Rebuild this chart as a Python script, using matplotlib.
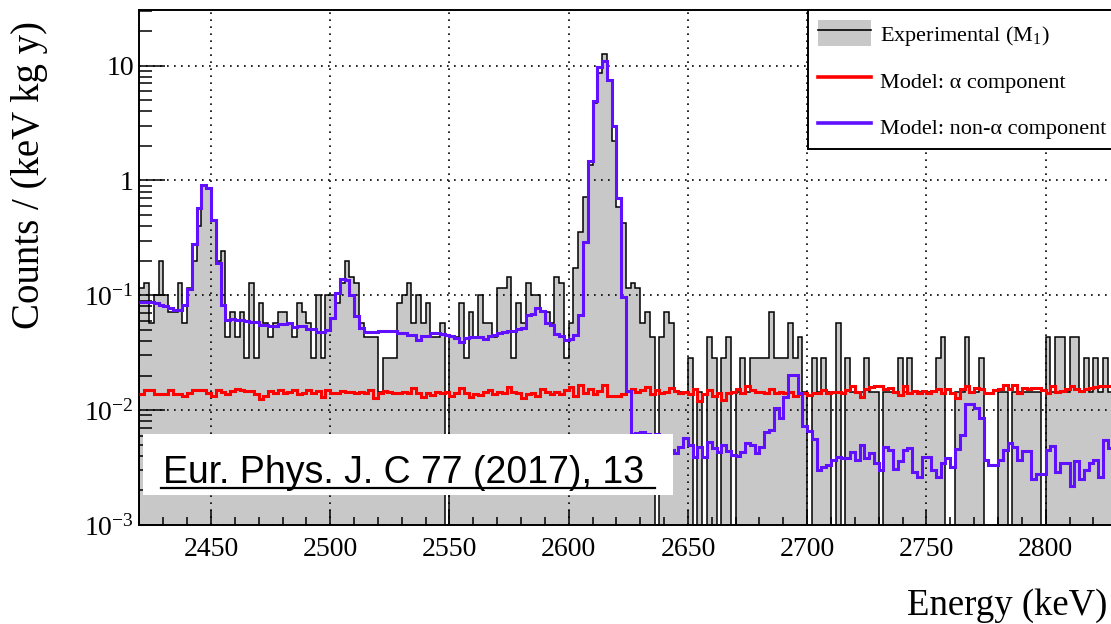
import numpy as np
import matplotlib
matplotlib.use("Agg")
import matplotlib.pyplot as plt
from matplotlib.patches import Patch, Rectangle
from matplotlib.lines import Line2D
from matplotlib.legend_handler import HandlerTuple
from matplotlib.ticker import FixedLocator, FixedFormatter, LogLocator, NullFormatter, MultipleLocator

plt.rcParams['font.family'] = ['Liberation Serif', 'DejaVu Serif']
plt.rcParams['mathtext.fontset'] = 'custom'
plt.rcParams['mathtext.rm'] = 'Liberation Serif'
plt.rcParams['mathtext.it'] = 'Liberation Serif:italic'
plt.rcParams['mathtext.bf'] = 'Liberation Serif:bold'

# ---------------- data ----------------
E_START = 2420.0      # keV, lower edge of first bin
BIN_WIDTH = 2.0       # keV
count_scale = 0.01433  # counts/(keV kg y) corresponding to one event per bin

exp_counts = [
    8, 9, 4, 7, 14, 7, 5, 5, 9, 4,
    8, 14, 28, 64, 60, 31, 14, 17, 3, 5,
    3, 5, 2, 9, 2, 6, 4, 3, 4, 5,
    5, 4, 3, 6, 5, 4, 2, 7, 2, 7,
    7, 6, 9, 14, 10, 9, 4, 3, 3, 3,
    1, 2, 2, 2, 6, 7, 9, 4, 7, 4,
    6, 3, 3, 4, 0, 3, 3, 6, 2, 5,
    3, 7, 4, 4, 3, 8, 8, 10, 2, 6,
    4, 9, 7, 7, 5, 5, 4, 10, 9, 2,
    4, 12, 25, 50, 95, 330, 600, 880, 520, 155,
    41, 30, 8, 9, 8, 4, 5, 3, 0, 3,
    5, 4, 1, 1, 1, 2, 0, 1, 0, 3,
    2, 0, 2, 3, 0, 1, 2, 1, 2, 2,
    2, 2, 5, 2, 2, 2, 4, 2, 3, 1,
    0, 2, 1, 2, 1, 0, 4, 0, 2, 1,
    1, 1, 2, 1, 1, 0, 1, 1, 1, 2,
    1, 2, 1, 1, 1, 1, 1, 2, 3, 0,
    0, 1, 1, 3, 1, 1, 2, 0, 0, 0,
    1, 1, 0, 1, 1, 1, 1, 1, 1, 0,
    3, 1, 3, 3, 1, 3, 3, 1, 2, 1,
    2, 1, 2, 1, 1,
]

non_alpha_model = [
    0.088, 0.088, 0.087, 0.085, 0.083, 0.080, 0.077, 0.075, 0.074, 0.083,
    0.113, 0.28, 0.58, 0.92, 0.86, 0.45, 0.19, 0.083, 0.061, 0.062,
    0.061, 0.061, 0.060, 0.058, 0.058, 0.055, 0.055, 0.054, 0.054, 0.056,
    0.056, 0.057, 0.053, 0.054, 0.054, 0.051, 0.051, 0.0475, 0.048, 0.050,
    0.063, 0.105, 0.139, 0.135, 0.100, 0.066, 0.052, 0.0475, 0.0475, 0.048,
    0.049, 0.049, 0.049, 0.049, 0.047, 0.047, 0.045, 0.045, 0.041, 0.0445,
    0.0445, 0.047, 0.047, 0.046, 0.045, 0.0445, 0.0425, 0.0395, 0.0425, 0.043,
    0.043, 0.043, 0.042, 0.044, 0.045, 0.047, 0.0475, 0.049, 0.049, 0.051,
    0.052, 0.068, 0.069, 0.078, 0.073, 0.057, 0.055, 0.046, 0.044, 0.041,
    0.0415, 0.045, 0.067, 0.29, 1.49, 4.95, 9.67, 11.0, 7.5, 3.0,
    0.705, 0.096, 0.0148, 0.0062, 0.0063, 0.0064, 0.0062, 0.0060, 0.0062, 0.0060,
    0.0055, 0.0045, 0.0042, 0.0048, 0.0057, 0.0050, 0.0039, 0.0048, 0.0039, 0.0053,
    0.0047, 0.0043, 0.0050, 0.0044, 0.0041, 0.0040, 0.0043, 0.0052, 0.0050, 0.0042,
    0.0048, 0.0065, 0.0067, 0.0105, 0.0085, 0.0131, 0.0203, 0.0203, 0.0141, 0.0073,
    0.0066, 0.0056, 0.0030, 0.0032, 0.0033, 0.0037, 0.0039, 0.0038, 0.0038, 0.0043,
    0.0037, 0.0050, 0.0038, 0.0042, 0.0035, 0.0030, 0.0048, 0.0045, 0.0031, 0.0036,
    0.0045, 0.0047, 0.0029, 0.0026, 0.0039, 0.0039, 0.0030, 0.0026, 0.0035, 0.0038,
    0.0032, 0.0046, 0.0061, 0.0114, 0.0114, 0.0104, 0.0085, 0.0037, 0.0033, 0.0033,
    0.0037, 0.0045, 0.0052, 0.0048, 0.0037, 0.0044, 0.0044, 0.0025, 0.0028, 0.0028,
    0.0045, 0.0049, 0.0029, 0.0035, 0.0035, 0.0022, 0.0036, 0.0025, 0.0030, 0.0035,
    0.0037, 0.0026, 0.0055, 0.0047, 0.0047,
]

alpha_model = [
    0.0137, 0.0151, 0.0151, 0.0137, 0.0137, 0.0137, 0.0151, 0.0137, 0.0137, 0.0133,
    0.0142, 0.0150, 0.0150, 0.0150, 0.0140, 0.0132, 0.0151, 0.0143, 0.0137, 0.0146,
    0.0153, 0.0150, 0.0146, 0.0146, 0.0137, 0.0126, 0.0133, 0.0148, 0.0140, 0.0150,
    0.0142, 0.0143, 0.0150, 0.0137, 0.0142, 0.0151, 0.0140, 0.0146, 0.0129, 0.0150,
    0.0141, 0.0141, 0.0148, 0.0145, 0.0145, 0.0141, 0.0145, 0.0141, 0.0150, 0.0127,
    0.0141, 0.0148, 0.0145, 0.0142, 0.0142, 0.0145, 0.0141, 0.0155, 0.0142, 0.0131,
    0.0141, 0.0136, 0.0145, 0.0141, 0.0145, 0.0133, 0.0141, 0.0155, 0.0141, 0.0131,
    0.0139, 0.0136, 0.0145, 0.0150, 0.0139, 0.0145, 0.0141, 0.0159, 0.0145, 0.0141,
    0.0127, 0.0137, 0.0141, 0.0134, 0.0153, 0.0143, 0.0139, 0.0143, 0.0137, 0.0149,
    0.0158, 0.0132, 0.0164, 0.0141, 0.0153, 0.0139, 0.0147, 0.0167, 0.0134, 0.0132,
    0.0132, 0.0139, 0.0147, 0.0153, 0.0143, 0.0150, 0.0158, 0.0139, 0.0149, 0.0141,
    0.0143, 0.0156, 0.0147, 0.0141, 0.0143, 0.0137, 0.0153, 0.0121, 0.0137, 0.0149,
    0.0134, 0.0141, 0.0122, 0.0141, 0.0145, 0.0152, 0.0141, 0.0161, 0.0150, 0.0145,
    0.0145, 0.0141, 0.0152, 0.0141, 0.0145, 0.0141, 0.0145, 0.0133, 0.0139, 0.0141,
    0.0136, 0.0141, 0.0142, 0.0150, 0.0142, 0.0145, 0.0145, 0.0141, 0.0150, 0.0163,
    0.0145, 0.0129, 0.0152, 0.0159, 0.0161, 0.0161, 0.0152, 0.0155, 0.0145, 0.0136,
    0.0161, 0.0142, 0.0148, 0.0141, 0.0148, 0.0142, 0.0148, 0.0152, 0.0141, 0.0152,
    0.0141, 0.0127, 0.0152, 0.0161, 0.0145, 0.0155, 0.0152, 0.0141, 0.0141, 0.0150,
    0.0152, 0.0166, 0.0152, 0.0166, 0.0141, 0.0155, 0.0152, 0.0155, 0.0155, 0.0150,
    0.0141, 0.0163, 0.0145, 0.0148, 0.0152, 0.0163, 0.0152, 0.0148, 0.0152, 0.0155,
    0.0159, 0.0161, 0.0161, 0.0161, 0.0155,
]

x_ticks = [2450, 2500, 2550, 2600, 2650, 2700, 2750, 2800]
x_tick_labels = ["2450", "2500", "2550", "2600", "2650", "2700", "2750", "2800"]
y_ticks = [1e-3, 1e-2, 1e-1, 1, 10]
y_tick_labels = [r"$10^{-3}$", r"$10^{-2}$", r"$10^{-1}$", "1", "10"]

legend_labels = [r"Experimental ($\mathrm{M}_{1}$)", "Model: \u03b1 component",
                 "Model: non-\u03b1 component"]
ref_text = "Eur. Phys. J. C 77 (2017), 13"

# ---------------- figure ----------------
W, H = 1111, 624
fig = plt.figure(figsize=(W / 100, H / 100), dpi=100)
ax_left, ax_right, ax_top, ax_bot = 139.45, 1117.2, 10, 525
ax = fig.add_axes([ax_left / W, (H - ax_bot) / H, (ax_right - ax_left) / W, (ax_bot - ax_top) / H])

n = len(exp_counts)
edges = E_START + BIN_WIDTH * np.arange(n + 1)
exp_vals = np.array(exp_counts, dtype=float) * count_scale
floor = 1e-6
exp_plot = np.where(exp_vals > 0, exp_vals, floor)

fill_color = '#c8c8c8'
ax.stairs(exp_plot, edges, baseline=floor, fill=True, color=fill_color, lw=0, zorder=1)
ax.stairs(exp_plot, edges, baseline=floor, fill=False, color='black', lw=1.1, zorder=1.6)
ax.stairs(np.array(alpha_model), edges, baseline=None, color='#ff0000', lw=2.2, zorder=3)
ax.stairs(np.array(non_alpha_model), edges, baseline=None, color='#6010ff', lw=2.2, zorder=3.2)

ax.set_yscale('log')
ax.set_xlim(2420, 2830)
ax.set_ylim(1e-3, 30.5)

ax.xaxis.set_major_locator(FixedLocator(x_ticks))
ax.xaxis.set_major_formatter(FixedFormatter(x_tick_labels))
ax.xaxis.set_minor_locator(MultipleLocator(10))
ax.yaxis.set_major_locator(FixedLocator(y_ticks))
ax.yaxis.set_major_formatter(FixedFormatter(y_tick_labels))
ax.yaxis.set_minor_locator(LogLocator(base=10, subs=np.arange(2, 10)))
ax.yaxis.set_minor_formatter(NullFormatter())

ax.set_axisbelow(False)
ax.grid(True, which='major', color='black', linestyle=(0, (1, 3.2)), linewidth=1.2)

ax.tick_params(axis='y', which='major', direction='in', length=19, width=1.1, labelsize=20, pad=4)
ax.tick_params(axis='y', which='minor', direction='in', length=9.5, width=1.1)
ax.tick_params(axis='x', which='major', direction='in', length=11, width=1.1, labelsize=20, pad=9)
ax.tick_params(axis='x', which='minor', direction='in', length=6, width=1.1)
for s in ax.spines.values():
    s.set_linewidth(1.4)

fig.text(30 / W, 1 - 175 / H, "Counts / (keV kg y)", rotation=90, ha='center', va='center', fontsize=28)
fig.text(1107 / W, 1 - 606 / H, "Energy (keV)", ha='right', va='center', fontsize=26.5)

# legend
h_exp = (Patch(facecolor=fill_color, edgecolor='none'), Line2D([], [], color='black', lw=1.2))
h_a = Line2D([], [], color='#ff0000', lw=2.6)
h_na = Line2D([], [], color='#6010ff', lw=2.6)
leg = ax.legend([h_exp, h_a, h_na], legend_labels,
                handler_map={tuple: HandlerTuple(ndivide=1, pad=0)},
                loc='upper left', bbox_to_anchor=(808 / W, 1 - 10 / H), bbox_transform=fig.transFigure,
                borderaxespad=0, fontsize=16, handlelength=2.4, handleheight=1.45,
                handletextpad=0.4, labelspacing=0.88, borderpad=0.45,
                fancybox=False, framealpha=1, edgecolor='black')
leg.get_frame().set_linewidth(1.4)
leg.set_zorder(10)

# reference box
box = Rectangle((143 / W, 1 - 495 / H), 530 / W, 61 / H, transform=fig.transFigure,
                facecolor='white', edgecolor='none', zorder=5)
fig.add_artist(box)
fig.text(163 / W, 1 - 483 / H, ref_text, ha='left', va='baseline', fontsize=27,
         family=['Liberation Sans', 'DejaVu Sans'], zorder=6)
fig.add_artist(Line2D([161 / W, 655 / W], [1 - 488 / H, 1 - 488 / H], transform=fig.transFigure,
                      color='black', lw=1.6, zorder=6))

fig.savefig('out.png', dpi=100)
